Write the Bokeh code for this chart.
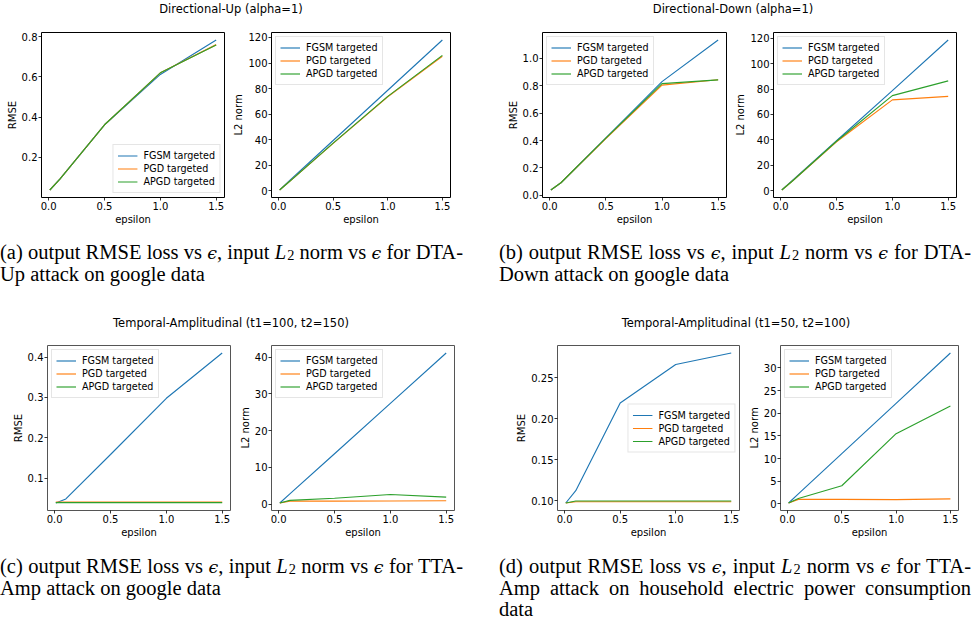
from bokeh.plotting import figure
from bokeh.layouts import column, row
from bokeh.models import Div, FixedTicker, PrintfTickFormatter, Range1d
from bokeh.embed import file_html
from bokeh.resources import INLINE

# ---------------- data ----------------
eps = [0.01, 0.1, 0.5, 1.0, 1.5]
methods = ["FGSM targeted", "PGD targeted", "APGD targeted"]

up_rmse_fgsm = [0.038, 0.092, 0.362, 0.612, 0.783]
up_rmse_pgd = [0.038, 0.092, 0.362, 0.620, 0.760]
up_rmse_apgd = [0.038, 0.092, 0.362, 0.620, 0.758]

up_l2_fgsm = [0.8, 7.9, 39.4, 78.7, 118.0]
up_l2_pgd = [0.7, 7.3, 37.2, 73.6, 105.3]
up_l2_apgd = [0.7, 7.3, 37.4, 73.9, 106.0]

down_rmse_fgsm = [0.039, 0.092, 0.420, 0.830, 1.134]
down_rmse_pgd = [0.039, 0.092, 0.415, 0.805, 0.844]
down_rmse_apgd = [0.039, 0.092, 0.418, 0.815, 0.843]

down_l2_fgsm = [0.8, 7.9, 39.4, 78.7, 118.5]
down_l2_pgd = [0.7, 7.4, 38.6, 71.5, 74.2]
down_l2_apgd = [0.7, 7.4, 39.0, 74.8, 86.4]

tta1_rmse_fgsm = [0.039, 0.049, 0.159, 0.298, 0.410]
tta1_rmse_pgd = [0.041, 0.041, 0.041, 0.041, 0.041]
tta1_rmse_apgd = [0.040, 0.040, 0.040, 0.040, 0.040]

tta1_l2_fgsm = [0.3, 2.8, 13.7, 27.4, 41.1]
tta1_l2_pgd = [0.3, 0.8, 0.8, 0.85, 0.9]
tta1_l2_apgd = [0.3, 1.0, 1.6, 2.6, 1.9]

tta2_rmse_fgsm = [0.097, 0.112, 0.219, 0.266, 0.280]
tta2_rmse_pgd = [0.097, 0.0985, 0.0985, 0.0985, 0.0985]
tta2_rmse_apgd = [0.097, 0.0995, 0.0995, 0.0995, 0.0995]

tta2_l2_fgsm = [0.2, 2.2, 11.1, 22.2, 33.3]
tta2_l2_pgd = [0.2, 1.0, 1.0, 0.95, 1.1]
tta2_l2_apgd = [0.2, 1.2, 4.0, 15.5, 21.6]

x_ticks = [0.0, 0.5, 1.0, 1.5]
up_rmse_ticks = [0.2, 0.4, 0.6, 0.8]
l2_120_ticks = [0, 20, 40, 60, 80, 100, 120]
down_rmse_ticks = [0.0, 0.2, 0.4, 0.6, 0.8, 1.0]
tta1_rmse_ticks = [0.1, 0.2, 0.3, 0.4]
tta1_l2_ticks = [0, 10, 20, 30, 40]
tta2_rmse_ticks = [0.10, 0.15, 0.20, 0.25]
tta2_l2_ticks = [0, 5, 10, 15, 20, 25, 30]

titles = ["Directional-Up (alpha=1)", "Directional-Down (alpha=1)",
          "Temporal-Amplitudinal (t1=100, t2=150)", "Temporal-Amplitudinal (t1=50, t2=100)"]

COLORS = ["#1f77b4", "#ff7f0e", "#2ca02c"]
FONT = "DejaVu Sans"


def padded(vals):
    lo, hi = min(vals), max(vals)
    d = (hi - lo) * 0.05
    return Range1d(lo - d, hi + d)


def panel(width, left, right, top, series, ylabel, yticks, yfmt, loc, outline):
    allv = [v for s in series for v in s]
    p = figure(width=width, height=top + 165 + 30, min_border_left=left, min_border_right=right,
               min_border_top=top, min_border_bottom=30,
               x_range=padded(eps), y_range=padded(allv),
               output_backend="svg", toolbar_location=None, margin=0)
    for s, name, c in zip(series, methods, COLORS):
        p.line(eps, s, line_color=c, line_width=1.15, legend_label=name)
    p.grid.visible = False
    p.outline_line_color = outline
    p.outline_line_width = 1
    p.outline_line_alpha = 1
    p.xaxis.ticker = FixedTicker(ticks=x_ticks)
    p.yaxis.ticker = FixedTicker(ticks=yticks)
    p.xaxis.formatter = PrintfTickFormatter(format="%.1f")
    p.yaxis.formatter = PrintfTickFormatter(format=yfmt)
    p.xaxis.axis_label = "epsilon"
    p.yaxis.axis_label = ylabel
    for ax in (p.xaxis[0], p.yaxis[0]):
        ax.axis_line_color = None
        ax.major_tick_in = 0
        ax.major_tick_out = 3
        ax.major_tick_line_color = "black"
        ax.major_tick_line_width = 0.8
        ax.minor_tick_line_color = None
        ax.major_label_text_font = FONT
        ax.major_label_text_font_size = "10px"
        ax.major_label_text_color = "black"
        ax.axis_label_text_font = FONT
        ax.axis_label_text_font_size = "10px"
        ax.axis_label_text_font_style = "normal"
        ax.axis_label_text_color = "black"
        ax.axis_label_standoff = 1
    p.xaxis[0].major_label_standoff = 1
    p.yaxis[0].major_label_standoff = 1
    lg = p.legend[0]
    lg.location = loc
    lg.margin = 4
    lg.padding = 4
    lg.spacing = 0
    lg.label_height = 13
    lg.glyph_height = 13
    lg.glyph_width = 20
    lg.label_standoff = 6
    lg.label_text_font = FONT
    lg.label_text_font_size = "9.6px"
    lg.label_text_color = "black"
    lg.border_line_color = "#cccccc"
    lg.border_line_width = 1
    lg.background_fill_alpha = 0.8
    return p


TOP = "black"
BOT = "#555555"

f1 = panel(230, 41, 6, 14, [up_rmse_fgsm, up_rmse_pgd, up_rmse_apgd], "RMSE", up_rmse_ticks, "%.1f", "bottom_right", TOP)
f2 = panel(226, 41, 6, 14, [up_l2_fgsm, up_l2_pgd, up_l2_apgd], "L2 norm", l2_120_ticks, "%d", "top_left", TOP)
f3 = panel(276, 86, 6, 14, [down_rmse_fgsm, down_rmse_pgd, down_rmse_apgd], "RMSE", down_rmse_ticks, "%.1f", "top_left", TOP)
f4 = panel(242, 40, 18, 14, [down_l2_fgsm, down_l2_pgd, down_l2_apgd], "L2 norm", l2_120_ticks, "%d", "top_left", TOP)

f5 = panel(236, 47, 6, 13, [tta1_rmse_fgsm, tta1_rmse_pgd, tta1_rmse_apgd], "RMSE", tta1_rmse_ticks, "%.1f", "top_left", BOT)
f6 = panel(224, 35, 6, 13, [tta1_l2_fgsm, tta1_l2_pgd, tta1_l2_apgd], "L2 norm", tta1_l2_ticks, "%d", "top_left", BOT)
f7 = panel(285, 97, 6, 13, [tta2_rmse_fgsm, tta2_rmse_pgd, tta2_rmse_apgd], "RMSE", tta2_rmse_ticks, "%.2f", "center_right", BOT)
f8 = panel(229, 33, 16, 13, [tta2_l2_fgsm, tta2_l2_pgd, tta2_l2_apgd], "L2 norm", tta2_l2_ticks, "%d", "top_left", BOT)


def title_div(t1, c1, t2, c2):
    span = ("<span style=\"position:absolute;left:{c}px;top:0;transform:translateX(-50%);"
            "white-space:nowrap\">{t}</span>")
    html = ("<div style=\"position:relative;width:974px;height:18px;font-family:'DejaVu Sans';"
            "font-size:11.5px;line-height:18px;color:black\">"
            + span.format(c=c1, t=t1) + span.format(c=c2, t=t2) + "</div>")
    return Div(text=html, width=974, height=18, margin=0)


EPS = "<i style=\"font-family:'DejaVu Serif';font-size:0.85em\">&#x03F5;</i>"
L2 = ("<i style=\"padding-right:1px\">L</i><span style=\"font-size:0.7em;position:relative;"
      "top:0.1em;line-height:0\">2</span>")


def caption(lines, width, pad):
    parts = []
    n = len(lines)
    for i, ln in enumerate(lines):
        last = "left" if i == n - 1 else "justify"
        parts.append("<div style=\"text-align:justify;text-align-last:%s;white-space:nowrap\">%s</div>"
                     % (last, ln))
    html = ("<div style=\"padding-top:%dpx;width:%dpx;font-family:'Liberation Serif','DejaVu Serif';"
            "font-size:20.5px;line-height:21px;color:black\">%s</div>" % (pad, width, "".join(parts)))
    return html


def first_line(letter, kind):
    return ("(%s) output RMSE loss vs %s, input %s norm vs %s for %s-" % (letter, EPS, L2, EPS, kind))


capA = caption([first_line("a", "DTA"), "Up attack on google data"], 463, 15)
capB = caption([first_line("b", "DTA"), "Down attack on google data"], 472, 15)
capC = caption([first_line("c", "TTA"), "Amp attack on google data"], 463, 16)
capD = caption([first_line("d", "TTA"), "Amp attack on household electric power consumption", "data"], 472, 16)

cap_row1 = row(Div(text=capA, width=499, height=87, margin=0), Div(text=capB, width=475, height=87, margin=0))
cap_row2 = row(Div(text=capC, width=499, height=82, margin=0), Div(text=capD, width=475, height=82, margin=0))

layout = column(
    title_div(titles[0], 231, titles[1], 733),
    row(f1, f2, f3, f4),
    cap_row1,
    title_div(titles[2], 231, titles[3], 736),
    row(f5, f6, f7, f8),
    cap_row2,
)

open("out.html", "w").write(file_html(layout, INLINE))
